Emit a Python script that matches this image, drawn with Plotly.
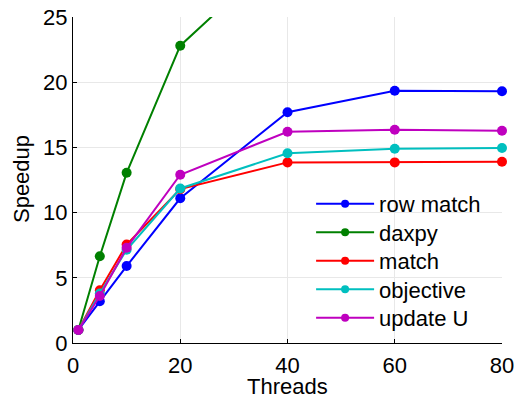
import plotly.graph_objects as go

threads = [1, 5, 10, 20, 40, 60, 80]
row_match = [1.0, 3.2, 5.9, 11.1, 17.7, 19.35, 19.3]
daxpy = [1.0, 6.65, 13.05, 22.8, 30.4, 32.0, 33.0]
match = [1.0, 4.05, 7.55, 11.8, 13.85, 13.85, 13.9]
objective = [1.0, 3.8, 7.15, 11.85, 14.55, 14.9, 14.95]
update_u = [1.0, 3.6, 7.3, 12.9, 16.2, 16.35, 16.28]

series = [
    ("row match", row_match, "#0000ff"),
    ("daxpy", daxpy, "#008000"),
    ("match", match, "#ff0000"),
    ("objective", objective, "#00bfbf"),
    ("update U", update_u, "#bf00bf"),
]
legend_rows_y = [0.4264, 0.3390, 0.2515, 0.1641, 0.0767]

FONT = "Liberation Sans, Arial, Helvetica, sans-serif"

fig = go.Figure()
for name, vals, col in series:
    fig.add_trace(go.Scatter(
        x=threads, y=vals, name=name, mode="lines+markers",
        line=dict(color=col, width=2),
        marker=dict(color=col, size=10),
        cliponaxis=False, showlegend=False,
    ))

legend_layouts = {}
for i, ((name, vals, col), ly) in enumerate(zip(series, legend_rows_y)):
    key = "legend" if i == 0 else f"legend{i+1}"
    fig.add_trace(go.Scatter(
        x=[None], y=[None], name=name, mode="lines+markers",
        line=dict(color=col, width=2),
        marker=dict(color=col, size=8),
        legend=key,
    ))
    legend_layouts[key] = dict(
        x=0.555, y=ly, xanchor="left", yanchor="middle",
        bgcolor="rgba(255,255,255,0)", borderwidth=0,
        font=dict(size=22), itemwidth=58,
    )

fig.update_layout(
    width=516, height=401,
    margin=dict(l=73, r=14, t=17, b=58),
    paper_bgcolor="white", plot_bgcolor="white",
    font=dict(family=FONT, size=22, color="black"),
    showlegend=True,
    xaxis=dict(
        range=[0, 80], tickvals=[0, 20, 40, 60, 80],
        showgrid=True, gridcolor="#e8e8e8", gridwidth=1,
        showline=True, linecolor="black", linewidth=1,
        ticks="inside", ticklen=4, tickcolor="black",
        ticklabelstandoff=3,
        zeroline=False, mirror=False, automargin=False,
    ),
    yaxis=dict(
        range=[0, 25], tickvals=[0, 5, 10, 15, 20, 25],
        showgrid=True, gridcolor="#e8e8e8", gridwidth=1,
        showline=True, linecolor="black", linewidth=1,
        ticks="inside", ticklen=4, tickcolor="black",
        zeroline=False, mirror=False, automargin=False,
    ),
    annotations=[
        dict(text="Threads", xref="paper", yref="paper", x=0.5, y=-0.133,
             xanchor="center", yanchor="middle", showarrow=False,
             borderpad=0, font=dict(size=22)),
        dict(text="Speedup", xref="paper", yref="paper", x=-0.1212, y=0.503,
             xanchor="center", yanchor="middle", showarrow=False,
             textangle=-90, font=dict(size=22)),
    ],
    **legend_layouts,
)

fig.write_html("out.html")
